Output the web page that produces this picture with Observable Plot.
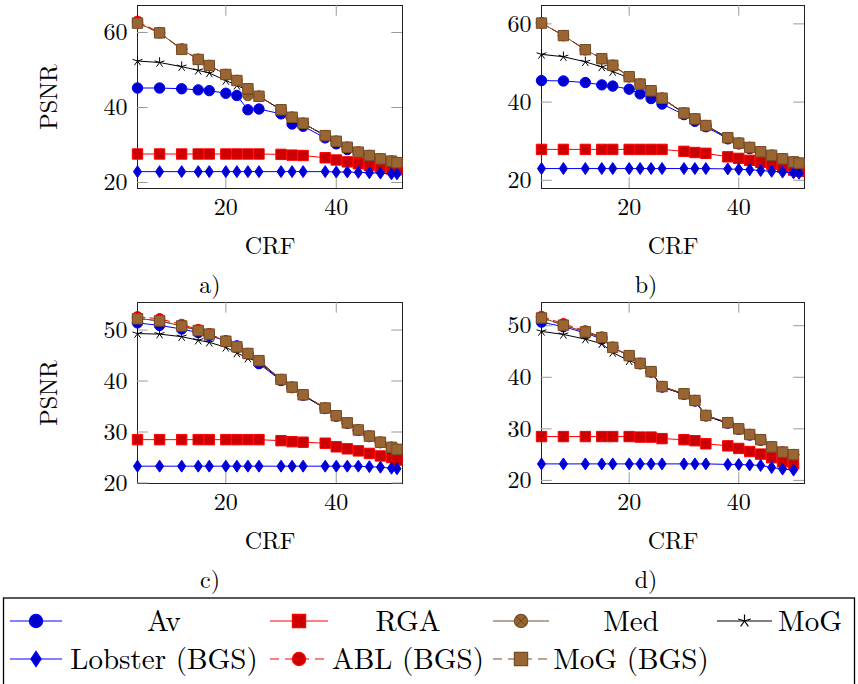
<!DOCTYPE html>
<html>
<head>
<meta charset="utf-8">
<script src="https://cdn.jsdelivr.net/npm/d3@7"></script>
<script src="https://cdn.jsdelivr.net/npm/@observablehq/plot@0.6"></script>
<style>
html, body { margin: 0; padding: 0; background: #fff; }
#wrap { position: relative; width: 858px; height: 684px; overflow: hidden; font-family: "Latin Modern Roman", "Liberation Serif", serif; }
#wrap > svg { position: absolute; }
#wrap svg text { font-family: "Latin Modern Roman", "Liberation Serif", serif !important; }
</style>
</head>
<body>
<div id="wrap"></div>
<script>
// ---------- data ----------
const seriesNames = ["Av", "RGA", "Med", "MoG", "Lobster (BGS)", "ABL (BGS)", "MoG (BGS)"];
const crf = [4, 8, 12, 15, 17, 20, 22, 24, 26, 30, 32, 34, 38, 40, 42, 44, 46, 48, 50, 51];
const crfD = [4, 8, 12, 15, 17, 20, 22, 24, 26, 30, 32, 34, 38, 40, 42, 44, 46, 48, 50];
const xTicks = [20, 40];
const yTicksAB = [20, 40, 60];
const yTicksCD = [20, 30, 40, 50];

// panel a
const aAv   = [45.2,45.2,45.0,44.7,44.5,43.8,43.2,39.4,39.6,38.3,35.6,35.0,31.9,30.3,28.8,27.5,26.5,25.7,25.1,24.8];
const aRGA  = [27.6,27.6,27.6,27.6,27.6,27.6,27.6,27.6,27.6,27.5,27.3,27.2,26.6,26.0,25.5,25.0,24.5,24.1,23.6,23.4];
const aMed  = [62.6,59.9,55.5,52.8,51.2,48.8,47.2,43.2,43.0,39.4,37.4,35.8,32.5,31.0,29.4,28.1,27.2,26.3,25.7,25.3];
const aMoG  = [52.4,52.0,50.9,49.9,49.2,47.2,45.9,44.5,43.0,39.4,37.4,35.8,32.5,31.0,29.4,28.1,27.2,26.3,25.7,25.3];
const aLob  = [22.9,22.9,22.9,22.9,22.9,22.9,22.9,22.9,22.9,22.9,22.9,22.9,22.9,22.8,22.8,22.7,22.6,22.5,22.3,22.3];
const aABL  = [63.0,60.0,55.6,52.9,51.2,48.8,47.2,45.0,43.0,39.4,37.4,35.8,32.5,31.0,29.4,28.1,27.2,26.3,25.7,25.3];
const aMoGB = [62.5,59.9,55.5,52.8,51.2,48.8,47.2,45.0,43.0,39.4,37.4,35.8,32.5,31.0,29.4,28.1,27.2,26.3,25.7,25.3];

// panel b
const bAv   = [45.5,45.4,45.0,44.4,44.1,43.3,42.1,40.9,39.5,36.8,35.1,33.7,30.6,29.3,28.1,27.1,26.1,25.3,24.5,24.2];
const bRGA  = [27.9,27.9,27.9,27.9,27.9,27.9,27.9,27.9,27.9,27.4,27.1,26.9,26.0,25.6,25.1,24.6,24.1,23.4,22.6,22.3];
const bMed  = [60.2,57.0,53.4,51.1,49.4,46.5,44.6,42.9,41.0,37.2,35.7,34.0,30.9,29.5,28.4,27.3,26.4,25.5,24.7,24.4];
const bMoG  = [52.2,51.6,50.3,49.0,47.8,46.2,44.5,42.8,40.9,37.2,35.7,34.0,30.9,29.5,28.4,27.3,26.4,25.5,24.7,24.4];
const bLob  = [23.0,23.0,23.0,23.0,23.0,23.0,23.0,23.0,23.0,23.0,23.0,23.0,22.9,22.8,22.7,22.5,22.3,22.1,21.9,21.8];
const bABL  = [60.3,57.0,53.4,51.1,49.4,46.5,44.6,42.9,41.0,37.2,35.7,34.0,30.9,29.5,28.4,27.3,26.4,25.5,24.7,24.4];
const bMoGB = [60.2,57.0,53.4,51.1,49.4,46.5,44.6,42.9,41.0,37.2,35.7,34.0,30.9,29.5,28.4,27.3,26.4,25.5,24.7,24.4];

// panel c
const cAv   = [51.4,50.9,50.2,49.5,48.9,47.9,46.9,45.3,43.4,40.1,38.7,37.2,34.6,33.1,31.7,30.3,29.1,27.9,26.9,26.5];
const cRGA  = [28.5,28.5,28.5,28.5,28.5,28.5,28.5,28.5,28.5,28.3,28.1,28.0,27.8,27.1,26.7,26.3,25.8,25.3,25.0,24.5];
const cMed  = [52.3,51.8,50.8,49.9,49.2,47.8,46.7,45.4,44.0,40.3,38.8,37.3,34.7,33.2,31.8,30.4,29.2,28.0,27.0,26.6];
const cMoG  = [49.3,49.2,48.7,48.0,47.6,46.6,45.5,44.5,43.7,40.2,38.7,37.2,34.6,33.1,31.7,30.3,29.1,27.9,26.9,26.5];
const cLob  = [23.3,23.3,23.3,23.3,23.3,23.3,23.3,23.3,23.3,23.3,23.3,23.3,23.3,23.3,23.3,23.3,23.2,23.1,22.9,22.8];
const cABL  = [52.6,52.2,51.1,50.1,49.3,47.8,46.7,45.4,44.0,40.3,38.8,37.3,34.7,33.2,31.8,30.4,29.2,28.0,27.0,26.6];
const cMoGB = [52.2,51.8,50.8,49.9,49.2,47.8,46.7,45.4,44.0,40.3,38.8,37.3,34.7,33.2,31.8,30.4,29.2,28.0,27.0,26.6];

// panel d
const dAv   = [50.7,49.8,48.6,47.4,45.8,44.1,42.6,41.0,38.1,36.7,35.4,32.5,31.1,29.9,28.8,27.8,26.4,25.4,24.9];
const dRGA  = [28.5,28.5,28.5,28.5,28.5,28.5,28.4,28.4,28.1,27.9,27.7,27.1,26.7,26.2,25.6,25.1,24.4,23.6,23.2];
const dMed  = [51.6,50.1,48.8,47.7,45.8,44.2,42.7,41.1,38.2,36.8,35.5,32.6,31.2,30.0,28.9,27.9,26.5,25.5,25.0];
const dMoG  = [48.9,48.3,47.4,46.5,44.8,43.2,42.5,41.0,38.1,36.7,35.4,32.5,31.1,29.9,28.8,27.8,26.4,25.4,24.9];
const dLob  = [23.2,23.2,23.2,23.2,23.2,23.2,23.2,23.2,23.2,23.2,23.2,23.2,23.1,23.1,23.0,22.9,22.5,22.2,22.0];
const dABL  = [51.8,50.4,49.0,47.8,45.8,44.2,42.7,41.1,38.2,36.8,35.5,32.6,31.2,30.0,28.9,27.9,26.5,25.5,25.0];
const dMoGB = [51.5,50.1,48.8,47.7,45.8,44.2,42.7,41.1,38.2,36.8,35.5,32.6,31.2,30.0,28.9,27.9,26.5,25.5,25.0];

// ---------- symbols (pgfplots-like marks) ----------
const rad = (size) => Math.sqrt(size / Math.PI);
const symCircle = { draw(c, s) { const r = rad(s); c.moveTo(r, 0); c.arc(0, 0, r, 0, 2 * Math.PI); c.closePath(); } };
const symSquare = { draw(c, s) { const r = rad(s); c.moveTo(-r, -r); c.lineTo(r, -r); c.lineTo(r, r); c.lineTo(-r, r); c.closePath(); } };
const symDiamond = { draw(c, s) { const r = rad(s); c.moveTo(0, -1.15 * r); c.lineTo(0.78 * r, 0); c.lineTo(0, 1.15 * r); c.lineTo(-0.78 * r, 0); c.closePath(); } };
const symStar = { draw(c, s) { const r = rad(s); for (let k = 0; k < 5; k++) { const a = -Math.PI / 2 + k * 2 * Math.PI / 5; c.moveTo(0, 0); c.lineTo(r * Math.cos(a), r * Math.sin(a)); } } };
const symOtimes = { draw(c, s) { const r = rad(s); c.moveTo(r, 0); c.arc(0, 0, r, 0, 2 * Math.PI); c.closePath(); const q = r / Math.SQRT2; c.moveTo(-q, -q); c.lineTo(q, q); c.moveTo(-q, q); c.lineTo(q, -q); } };

const BROWN = "#734D26", BROWNF = "#996633";
const styles = {
  "Av":            { stroke: "#0000FF", fill: "#0000CC", symbol: symCircle,  dash: null },
  "RGA":           { stroke: "#FF0000", fill: "#CC0000", symbol: symSquare,  dash: null },
  "Med":           { stroke: BROWN,     fill: BROWNF,    symbol: symOtimes,  dash: null },
  "MoG":           { stroke: "#000000", fill: "none",    symbol: symStar,    dash: null },
  "Lobster (BGS)": { stroke: "#0000FF", fill: "#0000CC", symbol: symDiamond, dash: null },
  "ABL (BGS)":     { stroke: "#FF0000", fill: "#CC0000", symbol: symCircle,  dash: "7.5,5" },
  "MoG (BGS)":     { stroke: BROWN,     fill: BROWNF,    symbol: symSquare,  dash: "7.5,5" }
};

const wrap = document.getElementById("wrap");
const FONT = "'Latin Modern Roman', 'Liberation Serif', serif";
const FS = 24;

function panel({ xs, values, yDomain, yTicks, caption, capDx, ylabel, left, top, ml, mr }) {
  const W = 429, H = 297, mt = 5, mb = (top === 0 ? 109 : 111);
  const frameH = H - mt - mb, frameW = W - ml - mr;
  const TL = 10.7;
  const marks = [
    Plot.frame({ stroke: "#222", strokeWidth: 1 }),
    Plot.ruleX(xTicks, { stroke: "#9a9a9a", insetTop: frameH - TL }),
    Plot.ruleX(xTicks, { stroke: "#9a9a9a", insetBottom: frameH - TL }),
    Plot.ruleY(yTicks, { stroke: "#9a9a9a", insetRight: frameW - TL }),
    Plot.ruleY(yTicks, { stroke: "#9a9a9a", insetLeft: frameW - TL }),
    Plot.axisX({ ticks: xTicks, tickSize: 0, tickPadding: 9, label: null, fontSize: FS, fontFamily: FONT, tickFormat: d => d }),
    Plot.axisY({ ticks: yTicks, tickSize: 0, tickPadding: 10, label: null, fontSize: FS, fontFamily: FONT, tickFormat: d => d })
  ];
  seriesNames.forEach((name, si) => {
    const st = styles[name];
    const rows = values[si].map((v, i) => ({ crf: xs[i], psnr: v }));
    marks.push(Plot.line(rows, { x: "crf", y: "psnr", stroke: st.stroke, strokeWidth: 1, strokeDasharray: st.dash || undefined }));
    marks.push(Plot.dot(rows, { x: "crf", y: "psnr", symbol: st.symbol, r: 5.2, fill: st.fill, stroke: st.stroke, strokeWidth: 1 }));
  });
  marks.push(Plot.text(["CRF"], { text: d => d, frameAnchor: "bottom", dy: 58, fontSize: FS, fontFamily: FONT, textAnchor: "middle", lineAnchor: "middle" }));
  marks.push(Plot.text([caption], { text: d => d, frameAnchor: "bottom", dx: capDx, dy: 97, fontSize: FS, fontFamily: FONT, textAnchor: "middle", lineAnchor: "middle" }));
  if (ylabel) marks.push(Plot.text([ylabel], { text: d => d, frameAnchor: "left", dx: -88, rotate: -90, fontSize: FS, fontFamily: FONT, textAnchor: "middle", lineAnchor: "middle" }));

  const svg = Plot.plot({
    width: W, height: H,
    marginLeft: ml, marginRight: mr, marginTop: mt, marginBottom: mb,
    x: { domain: [4, 52] },
    y: { domain: yDomain },
    style: { fontFamily: FONT, fontSize: FS + "px", background: "transparent", overflow: "visible" },
    marks
  });
  svg.style.left = left + "px";
  svg.style.top = top + "px";
  wrap.appendChild(svg);
}

panel({ xs: crf,  values: [aAv, aRGA, aMed, aMoG, aLob, aABL, aMoGB], yDomain: [18.4, 67.2], yTicks: yTicksAB, caption: "a)", capDx: -60, ylabel: "PSNR", left: 0,   top: 0,   ml: 137, mr: 27 });
panel({ xs: crf,  values: [bAv, bRGA, bMed, bMoG, bLob, bABL, bMoGB], yDomain: [17.9, 64.7], yTicks: yTicksAB, caption: "b)", capDx: -27, ylabel: null,   left: 429, top: 0,   ml: 112, mr: 54 });
panel({ xs: crf,  values: [cAv, cRGA, cMed, cMoG, cLob, cABL, cMoGB], yDomain: [19.9, 55.4], yTicks: yTicksCD, caption: "c)", capDx: -60, ylabel: "PSNR", left: 0,   top: 297, ml: 137, mr: 27 });
panel({ xs: crfD, values: [dAv, dRGA, dMed, dMoG, dLob, dABL, dMoGB], yDomain: [19.4, 54.5], yTicks: yTicksCD, caption: "d)", capDx: -27, ylabel: null,   left: 429, top: 297, ml: 112, mr: 54 });

// ---------- legend ----------
const legendLayout = [
  { name: "Av",            row: 0, x0: 10,  x1: 62,  tx: 164 },
  { name: "RGA",           row: 0, x0: 270, x1: 328, tx: 408 },
  { name: "Med",           row: 0, x0: 493, x1: 549, tx: 631 },
  { name: "MoG",           row: 0, x0: 717, x1: 772, tx: 810 },
  { name: "Lobster (BGS)", row: 1, x0: 10,  x1: 62,  tx: 164 },
  { name: "ABL (BGS)",     row: 1, x0: 270, x1: 328, tx: 408 },
  { name: "MoG (BGS)",     row: 1, x0: 493, x1: 549, tx: 631 }
];
const leg = d3.select(wrap).append("svg").attr("width", 858).attr("height", 87).style("left", "0px").style("top", "597px");
leg.append("rect").attr("x", 3.5).attr("y", 1).attr("width", 851).attr("height", 140).attr("fill", "none").attr("stroke", "#000").attr("stroke-width", 1.3);
const rowY = [24, 62];
legendLayout.forEach(e => {
  const st = styles[e.name];
  const y = rowY[e.row];
  leg.append("line").attr("x1", e.x0).attr("x2", e.x1).attr("y1", y).attr("y2", y)
    .attr("stroke", st.stroke).attr("stroke-width", 1.2).attr("stroke-dasharray", st.dash ? "9,6" : null);
  const mx = (e.x0 + e.x1) / 2;
  leg.append("path").attr("d", d3.symbol(st.symbol, Math.PI * 6.6 * 6.6)())
    .attr("transform", `translate(${mx},${y})`)
    .attr("fill", st.fill).attr("stroke", st.stroke).attr("stroke-width", 1.2);
  leg.append("text").attr("x", e.tx).attr("y", y).attr("dy", "0.33em").attr("text-anchor", "middle")
    .attr("font-family", FONT).attr("font-size", 29).text(e.name);
});
</script>
</body>
</html>
